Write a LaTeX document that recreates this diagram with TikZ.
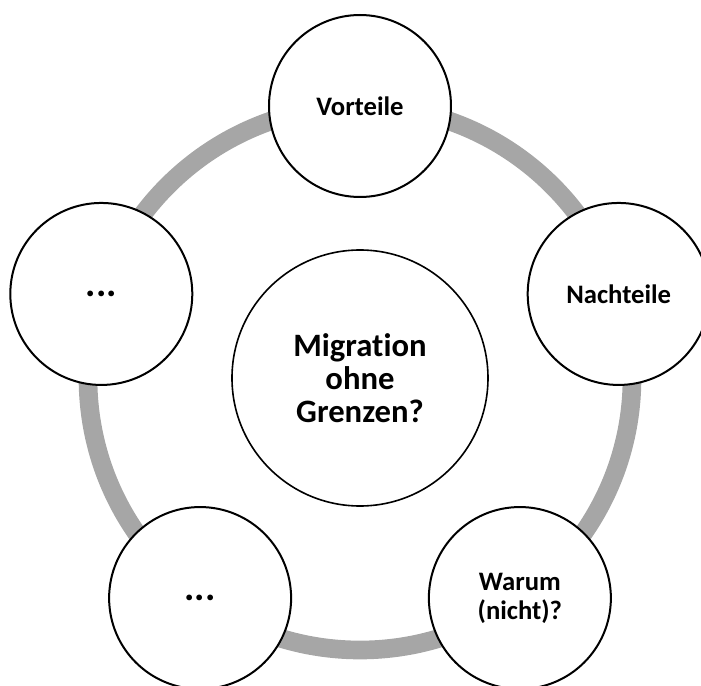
\documentclass[tikz,border=0pt]{standalone}
\usepackage{fontspec}
\setmainfont{Carlito}[Ligatures=NoCommon]
\usetikzlibrary{positioning}
\definecolor{ringcol}{RGB}{166,166,166}

\begin{document}
\begin{tikzpicture}[
			topic/.style={
				draw=black,
				circle,
				line width=1.5pt,
				fill=white,
				minimum size=136.5pt,
				inner sep=0pt,
				align=center,
				font=\bfseries\fontsize{20}{21.5}\selectfont
			},
			hub/.style={
				draw=black,
				circle,
				line width=1.2pt,
				fill=white,
				minimum size=192pt,
				inner sep=0pt,
				align=center,
				font=\bfseries\fontsize{24.5}{25}\selectfont
			},
			more/.style={
				topic,
				font=\bfseries\fontsize{29}{30}\selectfont
			},
			ring/.style={
				draw=ringcol,
				line width=14pt
			}
			]
			\useasboundingbox (-270pt,-231pt) rectangle (255.75pt,283.5pt);
			
			% Centre
			\node[hub] (hub) at (0,0) {Migration\\ohne\\Grenzen?};
			\draw[ring] (hub.center) circle (204pt);
			
			% Topics
			\node[topic] (vorteile) at (90:204pt) {Vorteile};
			\node[topic] (nachteile) at (18:204pt) {Nachteile};
			\node[topic] (warum) at (-54:204pt) {Warum\\(nicht)?};
			\node[more] (moreb) at (-126:204pt) {...};
			\node[more] (morel) at (162:204pt) {...};
		\end{tikzpicture}
\end{document}
